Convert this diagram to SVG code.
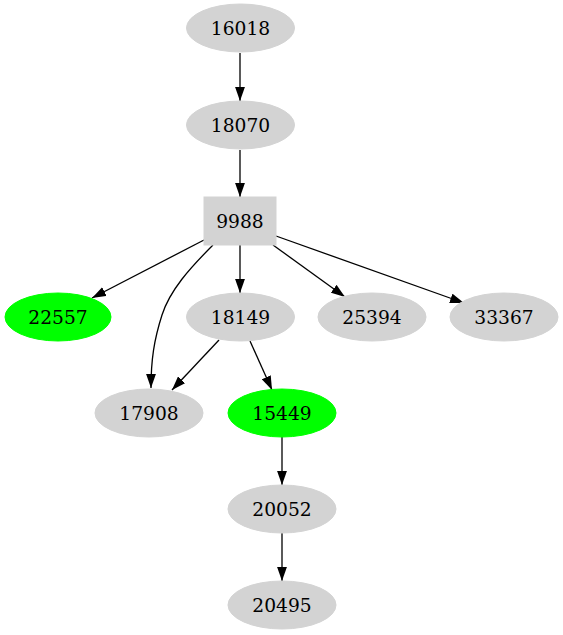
<svg xmlns="http://www.w3.org/2000/svg" width="563" height="635" viewBox="0 0 563 635">
<style>
.n ellipse, .n rect { fill: #d3d3d3; stroke: #d3d3d3; }
.g ellipse { fill: #00ff00; stroke: #00ff00; }
text { font-family: "DejaVu Serif", "Liberation Serif", serif; font-size: 18.67px; text-anchor: middle; fill: #000; }
.e path { fill: none; stroke: #000; stroke-width: 1.3; marker-end: url(#ah); }
</style>
<defs>
<marker id="ah" markerUnits="userSpaceOnUse" markerWidth="14" markerHeight="10" viewBox="0 0 13.3 9.34" refX="13.3" refY="4.67" orient="auto">
<path d="M0,0 L13.3,4.67 L0,9.34 z" fill="#000"/>
</marker>
</defs>
<rect width="563" height="635" fill="#fff"/>
<g id="edges" class="e">
<path d="M240,53 L240,101"/>
<path d="M240,150 L240,197"/>
<path d="M204,240 L92,298"/>
<path d="M213,245 C190,268 170,290 162,315 C154,340 151,360 151,388"/>
<path d="M240,245 L240,293"/>
<path d="M273,245 L345,297"/>
<path d="M276,236 L464,303"/>
<path d="M219,340 L172,390"/>
<path d="M250,341 L272,390"/>
<path d="M282,437 L282,485"/>
<path d="M282,533 L282,581"/>
</g>
<g id="n16018" class="n"><ellipse cx="240.5" cy="28" rx="54" ry="24"/><text x="240.5" y="34.5">16018</text></g>
<g id="n18070" class="n"><ellipse cx="240.5" cy="125" rx="54" ry="24"/><text x="240.5" y="131.5">18070</text></g>
<g id="n9988" class="n"><rect x="204" y="197" width="72" height="48"/><text x="240" y="227.5">9988</text></g>
<g id="n22557" class="g"><ellipse cx="58" cy="317" rx="53" ry="24"/><text x="58" y="323.5">22557</text></g>
<g id="n18149" class="n"><ellipse cx="240.5" cy="317" rx="54" ry="24"/><text x="240.5" y="323.5">18149</text></g>
<g id="n25394" class="n"><ellipse cx="372" cy="317" rx="54" ry="24"/><text x="372" y="323.5">25394</text></g>
<g id="n33367" class="n"><ellipse cx="504" cy="317" rx="54" ry="24"/><text x="504" y="323.5">33367</text></g>
<g id="n17908" class="n"><ellipse cx="149" cy="413" rx="54" ry="24"/><text x="149" y="419.5">17908</text></g>
<g id="n15449" class="g"><ellipse cx="282" cy="413" rx="54" ry="24"/><text x="282" y="419.5">15449</text></g>
<g id="n20052" class="n"><ellipse cx="282" cy="509" rx="54" ry="24"/><text x="282" y="515.5">20052</text></g>
<g id="n20495" class="n"><ellipse cx="282" cy="605" rx="54" ry="24"/><text x="282" y="611.5">20495</text></g>
</svg>
